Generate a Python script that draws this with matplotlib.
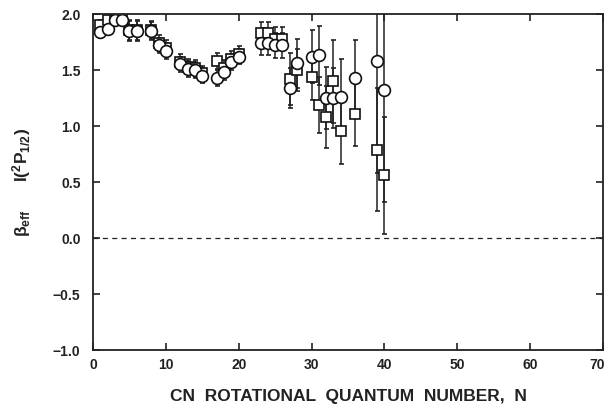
import matplotlib
matplotlib.use("Agg")
import matplotlib.pyplot as plt
import matplotlib.transforms as mtransforms

plt.rcParams['font.family'] = ['Liberation Sans', 'DejaVu Sans']
plt.rcParams['font.weight'] = 'bold'
plt.rcParams['mathtext.fontset'] = 'custom'
plt.rcParams['mathtext.rm'] = 'Liberation Sans:bold'
plt.rcParams['mathtext.it'] = 'Liberation Sans:bold'
plt.rcParams['mathtext.bf'] = 'Liberation Sans:bold'

# Data
N = [1, 2, 3, 4, 5, 6, 8, 9, 10, 12, 13, 14, 15, 17, 18, 19, 20,
     23, 24, 25, 26, 27, 28, 30, 31, 32, 33, 34, 36, 39, 40]
beta_circle = [1.84, 1.87, 1.95, 1.95, 1.85, 1.85, 1.85, 1.72, 1.67, 1.55, 1.51, 1.50, 1.45,
               1.43, 1.48, 1.57, 1.62,
               1.74, 1.74, 1.72, 1.72, 1.34, 1.56, 1.62, 1.63, 1.25, 1.25, 1.26, 1.43, 1.58, 1.32]
err_circle = [0.05, 0.05, 0.05, 0.05, 0.09, 0.09, 0.08, 0.07, 0.07, 0.07, 0.07, 0.07, 0.07,
              0.07, 0.07, 0.07, 0.07,
              0.11, 0.11, 0.11, 0.11, 0.18, 0.22, 0.24, 0.26, 0.28, 0.27, 0.34, 0.34, 1.0, 1.0]
beta_square = [1.90, 1.95, 1.95, 1.96, 1.86, 1.86, 1.86, 1.74, 1.70, 1.57, 1.53, 1.52, 1.47,
               1.58, 1.52, 1.60, 1.64,
               1.83, 1.83, 1.78, 1.78, 1.42, 1.50, 1.44, 1.19, 1.08, 1.40, 0.955, 1.11, 0.79, 0.56]
err_square = [0.05, 0.05, 0.05, 0.05, 0.09, 0.09, 0.08, 0.07, 0.07, 0.07, 0.07, 0.07, 0.07,
              0.07, 0.07, 0.07, 0.07,
              0.10, 0.10, 0.10, 0.10, 0.23, 0.19, 0.21, 0.25, 0.28, 0.37, 0.29, 0.29, 0.55, 0.52]

xticks = [0, 10, 20, 30, 40, 50, 60, 70]
yticks = [-1.0, -0.5, 0.0, 0.5, 1.0, 1.5, 2.0]

fig = plt.figure(figsize=(6.09, 4.11), dpi=100)
ax = fig.add_axes([93/609, 61/411, 510/609, 336/411])

ax.axhline(0.0, color='#222222', lw=0.9, dashes=(4, 3.5))

ax.errorbar(N, beta_square, yerr=err_square, fmt='s', ms=6.8, mfc='white', mec='#111111',
            mew=1.2, ecolor='#222222', elinewidth=1.1, capsize=1.8, capthick=1.1, clip_on=True)
ax.errorbar(N, beta_circle, yerr=err_circle, fmt='o', ms=8.5, mfc='white', mec='#111111',
            mew=1.2, ecolor='#222222', elinewidth=1.1, capsize=1.8, capthick=1.1, clip_on=True)

ax.set_xlim(0, 70)
ax.set_ylim(-1.0, 2.0)
ax.set_xticks(xticks)
ax.set_xticklabels([str(v) for v in xticks])
ax.set_yticks(yticks)
ax.set_yticklabels(['\u22121.0', '\u22120.5', '0.0', '0.5', '1.0', '1.5', '2.0'])
ax.tick_params(direction='in', length=5, width=1.2, top=True, right=True,
               labelsize=10, colors='#222222')
ax.tick_params(axis='y', pad=9)
ax.tick_params(axis='x', pad=6)
for s in ax.spines.values():
    s.set_linewidth(1.3)
    s.set_color('#222222')

# keep the last x tick label inside the figure
last = ax.get_xticklabels()[-1]
last.set_transform(last.get_transform() +
                   mtransforms.ScaledTranslation(-6/100, 0, fig.dpi_scale_trans))

ax.set_xlabel('CN  ROTATIONAL  QUANTUM  NUMBER,  N', fontsize=12.5, fontweight='bold',
              labelpad=12, color='#222222')
ax.set_ylabel('\u03b2$_{\\rm eff}$      I($^{2}$P$_{1/2}$)', fontsize=12.5, fontweight='bold',
              labelpad=14, color='#222222')

fig.savefig('out.png', dpi=100)
